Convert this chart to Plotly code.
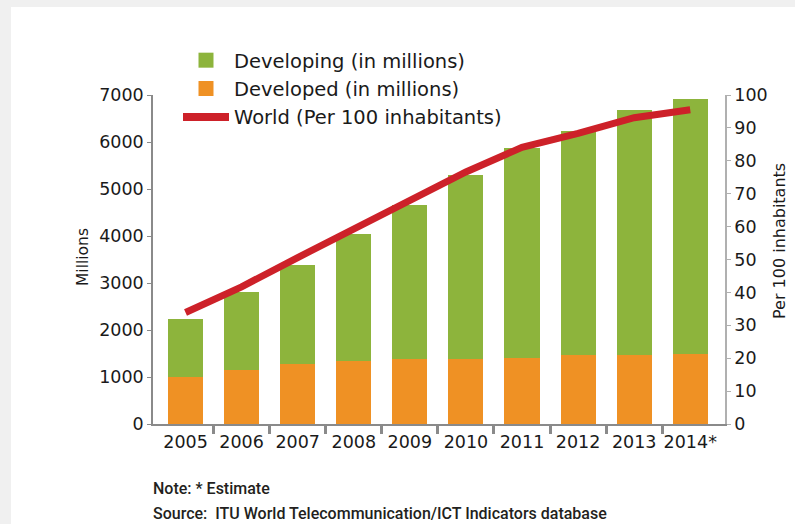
import plotly.graph_objects as go

# Mobile-cellular subscriptions, 2005-2014
years = ["2005", "2006", "2007", "2008", "2009", "2010", "2011", "2012", "2013", "2014*"]
developed_millions = [1005, 1150, 1270, 1345, 1385, 1385, 1410, 1465, 1470, 1495]
developing_millions = [1225, 1660, 2115, 2695, 3275, 3915, 4470, 4770, 5210, 5420]
world_per_100 = [33.9, 41.7, 50.6, 59.3, 68.0, 76.6, 84.1, 88.3, 93.1, 95.5]

left_ticks = [0, 1000, 2000, 3000, 4000, 5000, 6000, 7000]
right_ticks = [0, 10, 20, 30, 40, 50, 60, 70, 80, 90, 100]

GREEN = "#8DB43C"
ORANGE = "#EF9124"
RED = "#CD2129"
AXIS = "#8A8A8A"
FONT = "DejaVu Sans"

W, H = 795, 524
ML, MR, MT, MB = 153, 70, 95, 100
PW, PH = W - ML - MR, H - MT - MB
XR = [-0.58, 9.62]


def px_x(px):
    return (px - ML) / PW


def px_y(py):
    return (H - MB - py) / PH


fig = go.Figure()

fig.add_trace(go.Bar(
    x=years, y=developed_millions, name="Developed (in millions)",
    marker=dict(color=ORANGE, line=dict(width=0)), width=0.625,
    showlegend=False,
))
fig.add_trace(go.Bar(
    x=years, y=developing_millions, name="Developing (in millions)",
    marker=dict(color=GREEN, line=dict(width=0)), width=0.625,
    showlegend=False,
))
fig.add_trace(go.Scatter(
    x=years, y=world_per_100, name="World (Per 100 inhabitants)",
    mode="lines", line=dict(color=RED, width=7), yaxis="y2",
    showlegend=False,
))

# legend keys
fig.add_trace(go.Scatter(
    x=[None], y=[None], mode="markers", name="Developing (in millions)",
    marker=dict(symbol="square", size=15, color=GREEN),
))
fig.add_trace(go.Scatter(
    x=[None], y=[None], mode="markers", name="Developed (in millions)",
    marker=dict(symbol="square", size=15, color=ORANGE),
))
fig.add_trace(go.Scatter(
    x=[None], y=[None], mode="lines", name="World (Per 100 inhabitants)",
    line=dict(color=RED, width=8),
))

# category boundary ticks on the x axis
fig.add_trace(go.Scatter(x=[None], y=[None], xaxis="x2", showlegend=False))

NOTE_FONT = dict(family="Roboto", size=16, color="#231F20", weight=500)

fig.update_layout(
    width=W, height=H,
    margin=dict(l=ML, r=MR, t=MT, b=MB, pad=0),
    paper_bgcolor="#F0F0F0",
    plot_bgcolor="white",
    barmode="stack",
    bargap=0.375,
    font=dict(family=FONT, size=17.5, color="#1A1A1A"),
    showlegend=True,
    legend=dict(
        x=px_x(178), y=px_y(41), xanchor="left", yanchor="top",
        xref="paper", yref="paper", traceorder="normal",
        font=dict(family=FONT, size=19.5, color="#1A1A1A"),
        bgcolor="rgba(0,0,0,0)", borderwidth=0,
        itemwidth=46, tracegroupgap=0,
    ),
    xaxis=dict(
        type="category", range=XR, showgrid=False, zeroline=False,
        showline=True, linecolor=AXIS, linewidth=2,
        ticks="outside", ticklen=1, tickcolor="rgba(0,0,0,0)",
        tickfont=dict(family=FONT, size=17.5, color="#1A1A1A"),
    ),
    xaxis2=dict(
        overlaying="x", anchor="y", side="bottom", range=XR,
        tickvals=[0.5, 1.5, 2.5, 3.5, 4.5, 5.5, 6.5, 7.5, 8.5],
        ticks="outside", ticklen=9, tickwidth=3, tickcolor=AXIS,
        showticklabels=False, showgrid=False, zeroline=False, showline=False,
    ),
    yaxis=dict(
        range=[0, 7000], tickvals=left_ticks, showgrid=False, zeroline=False,
        showline=True, linecolor=AXIS, linewidth=1.5,
        ticks="outside", ticklen=4, tickcolor=AXIS, tickwidth=1,
        tickfont=dict(family=FONT, size=17.5, color="#1A1A1A"),
    ),
    yaxis2=dict(
        overlaying="y", side="right", range=[0, 100], tickvals=right_ticks,
        showgrid=False, zeroline=False,
        showline=True, linecolor="#B0B0B0", linewidth=1.5,
        ticks="outside", ticklen=4, tickcolor="#B0B0B0", tickwidth=1,
        tickfont=dict(family=FONT, size=17.5, color="#1A1A1A"),
    ),
    shapes=[dict(
        type="rect", xref="paper", yref="paper", layer="below",
        x0=px_x(11), x1=px_x(W + 20), y0=px_y(H + 20), y1=px_y(7),
        fillcolor="white", line=dict(width=0),
    )],
    annotations=[
        dict(text="Millions", textangle=-90, xref="paper", yref="paper",
             x=px_x(83), y=px_y(257), xanchor="center", yanchor="middle",
             showarrow=False, font=dict(family=FONT, size=15.5, color="#1A1A1A")),
        dict(text="Per 100 inhabitants", textangle=-90, xref="paper", yref="paper",
             x=px_x(779), y=px_y(241), xanchor="center", yanchor="middle",
             showarrow=False, font=dict(family=FONT, size=16, color="#1A1A1A")),
        dict(text="Note: * Estimate", xref="paper", yref="paper",
             x=px_x(151), y=px_y(488), xanchor="left", yanchor="middle",
             showarrow=False, font=NOTE_FONT),
        dict(text="Source:\u00a0 ITU World Telecommunication/ICT Indicators database",
             xref="paper", yref="paper",
             x=px_x(151), y=px_y(513), xanchor="left", yanchor="middle",
             showarrow=False, font=NOTE_FONT),
    ],
)

fig.write_html("out.html")
